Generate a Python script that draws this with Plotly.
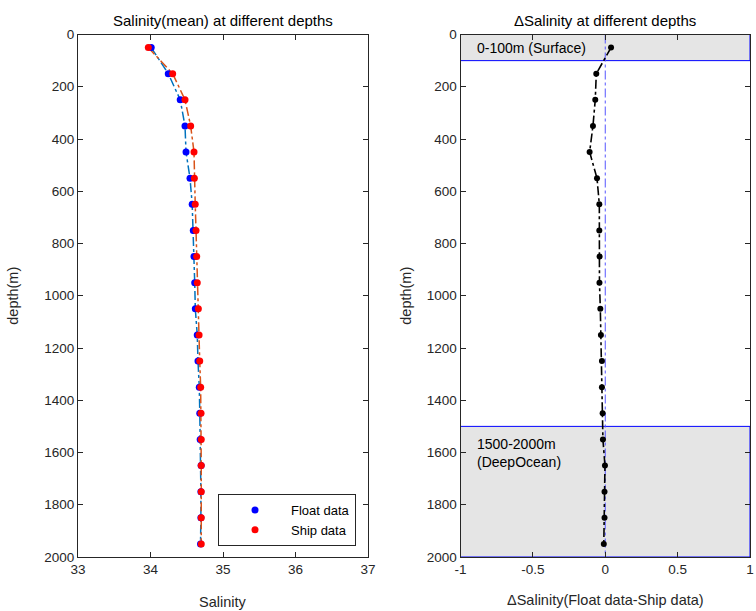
import plotly.graph_objects as go

# ---- data ----
depths = [50, 150, 250, 350, 450, 550, 650, 750, 850, 950,
          1050, 1150, 1250, 1350, 1450, 1550, 1650, 1750, 1850, 1950]
float_sal = [34.01, 34.245, 34.41, 34.476, 34.49, 34.545, 34.575, 34.59, 34.60, 34.61,
             34.618, 34.645, 34.655, 34.673, 34.68, 34.685, 34.698, 34.695, 34.695, 34.69]
ship_sal = [33.97, 34.306, 34.476, 34.554, 34.60, 34.605, 34.617, 34.628, 34.637, 34.645,
            34.66, 34.67, 34.679, 34.692, 34.697, 34.70, 34.70, 34.70, 34.70, 34.70]
delta_sal = [0.04, -0.062, -0.069, -0.085, -0.108, -0.057, -0.041, -0.041, -0.039, -0.04,
             -0.034, -0.03, -0.023, -0.023, -0.018, -0.016, -0.002, -0.005, -0.005, -0.01]

depth_ticks = list(range(0, 2001, 200))
sal_ticks = [33, 34, 35, 36, 37]
dsal_ticks = [-1, -0.5, 0, 0.5, 1]
dsal_ticktext = ["-1", "-0.5", "0", "0.5", "1"]
zones = [(0, 100, "0-100m (Surface)", 50),
         (1500, 2000, "1500-2000m<br>(DeepOcean)", 1602)]

FONT = "Liberation Sans, Arial, sans-serif"
AX = "#262626"

fig = go.Figure()

# left panel lines
fig.add_trace(go.Scatter(x=float_sal, y=depths, mode="lines",
                         line=dict(color="#0072BD", width=1.5, dash="dashdot"),
                         showlegend=False, xaxis="x", yaxis="y"))
fig.add_trace(go.Scatter(x=ship_sal, y=depths, mode="lines",
                         line=dict(color="#D95319", width=1.5, dash="dashdot"),
                         showlegend=False, xaxis="x", yaxis="y"))
fig.add_trace(go.Scatter(x=float_sal, y=depths, mode="markers", name="Float data",
                         marker=dict(color="#0000FF", size=7), xaxis="x", yaxis="y"))
fig.add_trace(go.Scatter(x=ship_sal, y=depths, mode="markers", name="Ship data",
                         marker=dict(color="#FF0000", size=7), xaxis="x", yaxis="y"))

# right panel
fig.add_trace(go.Scatter(x=[0, 0], y=[0, 2000], mode="lines",
                         line=dict(color="#5555FF", width=1, dash="dashdot"),
                         showlegend=False, xaxis="x2", yaxis="y2"))
fig.add_trace(go.Scatter(x=delta_sal, y=depths, mode="lines+markers",
                         line=dict(color="black", width=1.6, dash="dashdot"),
                         marker=dict(color="black", size=6),
                         showlegend=False, xaxis="x2", yaxis="y2"))

shapes = []
annotations = []
for (y0, y1, label, ylab) in zones:
    shapes.append(dict(type="rect", xref="x2", yref="y2", x0=-1, x1=1, y0=y0, y1=y1,
                       fillcolor="#E5E5E5", line=dict(color="#0000FF", width=1),
                       layer="below"))
    annotations.append(dict(x=-0.9, y=ylab, xref="x2", yref="y2", text=label,
                            showarrow=False, xanchor="left", yanchor="middle",
                            align="left", font=dict(size=14, color="black", family=FONT)))

xl = [78 / 756, 368 / 756]
xr = [460.5 / 756, 750 / 756]
yd = [1 - 557 / 611, 1 - 34.5 / 611]

annotations += [
    dict(x=(xl[0] + xl[1]) / 2, y=1 - 20 / 611, xref="paper", yref="paper",
         text="Salinity(mean) at different depths", showarrow=False,
         font=dict(size=15, color="black", family=FONT), xanchor="center", yanchor="middle"),
    dict(x=(xr[0] + xr[1]) / 2, y=1 - 20 / 611, xref="paper", yref="paper",
         text="\u0394Salinity at different depths", showarrow=False,
         font=dict(size=15, color="black", family=FONT), xanchor="center", yanchor="middle"),
    dict(x=(xl[0] + xl[1]) / 2, y=1 - 602 / 611, xref="paper", yref="paper",
         text="Salinity", showarrow=False,
         font=dict(size=14.5, color=AX, family=FONT), xanchor="center", yanchor="middle"),
    dict(x=(xr[0] + xr[1]) / 2, y=1 - 600 / 611, xref="paper", yref="paper",
         text="\u0394Salinity(Float data-Ship data)", showarrow=False,
         font=dict(size=14.5, color=AX, family=FONT), xanchor="center", yanchor="middle"),
    dict(x=13 / 756, y=(yd[0] + yd[1]) / 2, xref="paper", yref="paper",
         text="depth(m)", showarrow=False, textangle=-90,
         font=dict(size=14.5, color=AX, family=FONT), xanchor="center", yanchor="middle"),
    dict(x=406 / 756, y=(yd[0] + yd[1]) / 2, xref="paper", yref="paper",
         text="depth(m)", showarrow=False, textangle=-90,
         font=dict(size=14.5, color=AX, family=FONT), xanchor="center", yanchor="middle"),
]

axis_common = dict(showline=True, linecolor=AX, linewidth=1, mirror="ticks",
                   ticks="inside", ticklen=5, tickcolor=AX, showgrid=False,
                   zeroline=False, automargin=False,
                   tickfont=dict(size=13.5, color=AX, family=FONT))

fig.update_layout(
    width=756, height=611,
    margin=dict(l=0, r=0, t=0, b=0, autoexpand=False),
    paper_bgcolor="white", plot_bgcolor="white",
    font=dict(family=FONT),
    xaxis=dict(domain=xl, range=[33, 37], tickvals=sal_ticks, anchor="y", **axis_common),
    yaxis=dict(domain=yd, range=[2000, 0], tickvals=depth_ticks, anchor="x", **axis_common),
    xaxis2=dict(domain=xr, range=[-1, 1], tickvals=dsal_ticks, ticktext=dsal_ticktext,
                anchor="y2", **axis_common),
    yaxis2=dict(domain=yd, range=[2000, 0], tickvals=depth_ticks, anchor="x2", **axis_common),
    shapes=shapes,
    annotations=annotations,
    legend=dict(x=356 / 756, y=1 - 546 / 611, xanchor="right", yanchor="bottom",
                bgcolor="white", bordercolor=AX, borderwidth=1,
                font=dict(size=13, color="black", family=FONT),
                itemwidth=62, tracegroupgap=0),
    showlegend=True,
)

fig.write_html("out.html")
